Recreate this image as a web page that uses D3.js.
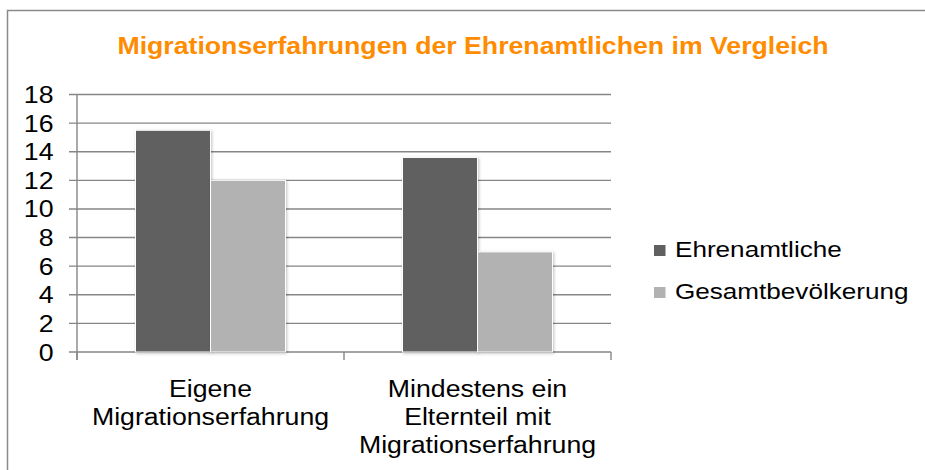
<!DOCTYPE html>
<html>
<head>
<meta charset="utf-8">
<style>
body { margin: 0; background: #fff; }
text { font-family: "Liberation Sans", Arial, sans-serif; }
</style>
</head>
<body>
<svg width="925" height="470"></svg>
<script src="https://d3js.org/d3.v7.min.js"></script>
<script>

// data
var categories = [
  ["Eigene", "Migrationserfahrung"],
  ["Mindestens ein", "Elternteil mit", "Migrationserfahrung"]
];
var seriesNames = ["Ehrenamtliche", "Gesamtbevölkerung"];
var ehrenamtliche = [15.5, 13.6];
var gesamt = [12.0, 7.0];
var yTicks = [0, 2, 4, 6, 8, 10, 12, 14, 16, 18];
var colors = ["#606060", "#b2b2b2"];

// the text in the picture is a bit wider than the font
var stretch = 1.16;

var svg = d3.select("svg");

// puts a stretched text at (x, y)
function label(parent, x, y, txt, anchor, size, weight, fill) {
  return parent.append("g")
    .attr("transform", "translate(" + x + "," + y + ") scale(" + stretch + ",1)")
    .append("text")
      .attr("text-anchor", anchor)
      .attr("font-size", size + "px")
      .attr("font-weight", weight || "normal")
      .attr("fill", fill || "#000")
      .text(txt);
}

// outer frame
svg.append("rect")
  .attr("x", 7.5).attr("y", 10.5)
  .attr("width", 940).attr("height", 480)
  .attr("fill", "none")
  .attr("stroke", "#8a8a8a")
  .attr("stroke-width", 1.5);

label(svg, 473, 53.5, "Migrationserfahrungen der Ehrenamtlichen im Vergleich",
  "middle", 23, "bold", "#ff8c00");

var plotLeft = 77, plotRight = 611, plotTop = 94.5, plotBottom = 352;

var x = d3.scaleBand()
  .domain(d3.range(categories.length))
  .range([plotLeft, plotRight]);

var x1 = d3.scaleBand()
  .domain(d3.range(seriesNames.length))
  .range([0, x.bandwidth()])
  .paddingOuter(0.78);

var y = d3.scaleLinear()
  .domain([0, 18])
  .range([plotBottom, plotTop]);

// grid lines
svg.append("g")
  .selectAll("line")
  .data(yTicks)
  .enter().append("line")
    .attr("x1", plotLeft - 8).attr("x2", plotRight)
    .attr("y1", function(d) { return y(d); })
    .attr("y2", function(d) { return y(d); })
    .attr("stroke", "#868686")
    .attr("stroke-width", 1.4);

// y axis line
svg.append("line")
  .attr("x1", plotLeft).attr("x2", plotLeft)
  .attr("y1", plotTop).attr("y2", plotBottom + 8)
  .attr("stroke", "#868686").attr("stroke-width", 1.4);

// x axis ticks
svg.append("g")
  .selectAll("line")
  .data([0, 1, 2])
  .enter().append("line")
    .attr("x1", function(d) { return plotLeft + d * x.bandwidth(); })
    .attr("x2", function(d) { return plotLeft + d * x.bandwidth(); })
    .attr("y1", plotBottom).attr("y2", plotBottom + 8)
    .attr("stroke", "#868686").attr("stroke-width", 1.4);

// y tick labels
var yLab = svg.append("g");
yTicks.forEach(function(d) {
  label(yLab, 53.5, y(d) + 8.5, d, "end", 23);
});

// bars
var values = [ehrenamtliche, gesamt];
var groups = svg.append("g")
  .selectAll("g")
  .data(categories)
  .enter().append("g")
    .attr("transform", function(d, i) { return "translate(" + x(i) + ",0)"; });

groups.selectAll("rect")
  .data(function(d, i) { return values.map(function(s, j) { return { s: j, v: s[i] }; }); })
  .enter().append("rect")
    .attr("x", function(d) { return x1(d.s); })
    .attr("y", function(d) { return y(d.v); })
    .attr("width", x1.bandwidth())
    .attr("height", function(d) { return plotBottom - y(d.v); })
    .attr("fill", function(d) { return colors[d.s]; })
    .attr("stroke", "#fff")
    .attr("stroke-width", 1)
    .style("filter", "drop-shadow(1px 1px 1.5px rgba(0,0,0,0.25))");

// category labels
groups.each(function(lines) {
  var g = d3.select(this);
  lines.forEach(function(l, k) {
    label(g, x.bandwidth() / 2, 396.5 + k * 28, l, "middle", 23);
  });
});

// legend
var legend = svg.append("g")
  .selectAll("g")
  .data(seriesNames)
  .enter().append("g")
    .attr("transform", function(d, i) { return "translate(654," + (245 + i * 42) + ")"; });

legend.append("rect")
  .attr("x", 0).attr("y", 0)
  .attr("width", 11.5).attr("height", 11)
  .attr("fill", function(d, i) { return colors[i]; });

legend.each(function(d) {
  label(d3.select(this), 21, 12, d, "start", 22.5);
});

</script>
</body>
</html>
